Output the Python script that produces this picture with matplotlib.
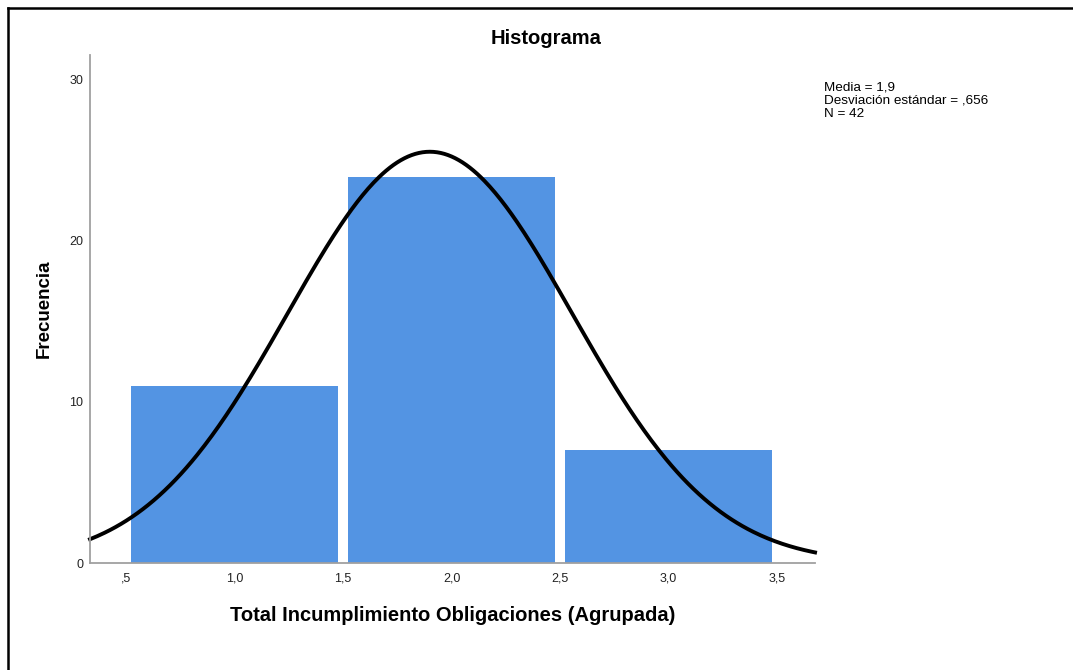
import numpy as np
import matplotlib
matplotlib.use('Agg')
import matplotlib.pyplot as plt
from matplotlib.lines import Line2D

# data
bin_centers = [1.0, 2.0, 3.0]
counts = [11, 24, 7]
media = 1.9
desv = 0.656
n = 42
bin_width = 1.0
x_ticks = [0.5, 1.0, 1.5, 2.0, 2.5, 3.0, 3.5]
x_tick_labels = [',5', '1,0', '1,5', '2,0', '2,5', '3,0', '3,5']
y_ticks = [0, 10, 20, 30]

plt.rcParams['font.family'] = ['Liberation Sans', 'DejaVu Sans']

fig = plt.figure(figsize=(10.73, 6.70), dpi=100)
ax = fig.add_axes([0.0839, 0.1597, 0.6757, 0.7582])

ax.bar(bin_centers, counts, width=0.95, color='#5394e3', zorder=1)

# normal curve scaled to counts
xs = np.linspace(0.334, 3.675, 400)
ys = n * bin_width / (desv * np.sqrt(2 * np.pi)) * np.exp(-0.5 * ((xs - media) / desv) ** 2)
ax.plot(xs, ys, color='black', lw=2.8, zorder=2, clip_on=False)

ax.set_xlim(0.334, 3.675)
ax.set_ylim(0, 31.55)
ax.set_xticks(x_ticks)
ax.set_xticklabels(x_tick_labels)
ax.set_yticks(y_ticks)
ax.tick_params(axis='x', length=0, labelsize=9, colors='#222222', pad=7)
ax.tick_params(axis='y', length=0, labelsize=9, colors='#222222', pad=5)

for side in ['top', 'right']:
    ax.spines[side].set_visible(False)
for side in ['left', 'bottom']:
    ax.spines[side].set_color('#a0a0a0')
    ax.spines[side].set_linewidth(1.3)

fig.text(546 / 1073, 1 - 38 / 670, 'Histograma', fontsize=14.5,
         fontweight='bold', ha='center', va='center')
ax.set_xlabel('Total Incumplimiento Obligaciones (Agrupada)', fontsize=14.5,
              fontweight='bold', labelpad=15)
ax.set_ylabel('Frecuencia', fontsize=13.5, fontweight='bold', labelpad=12)

fig.text(0.768, 0.878, 'Media = 1,9\nDesviación estándar = ,656\nN = 42',
         fontsize=9.7, va='top', ha='left', linespacing=1.12)

# outer frame (only top and left visible in the crop)
fig.add_artist(Line2D([0.0075, 0.0075], [0, 0.988], color='black', lw=1.8,
                      transform=fig.transFigure))
fig.add_artist(Line2D([0.0075, 1], [0.988, 0.988], color='black', lw=1.8,
                      transform=fig.transFigure))

fig.savefig('out.png', dpi=100)
